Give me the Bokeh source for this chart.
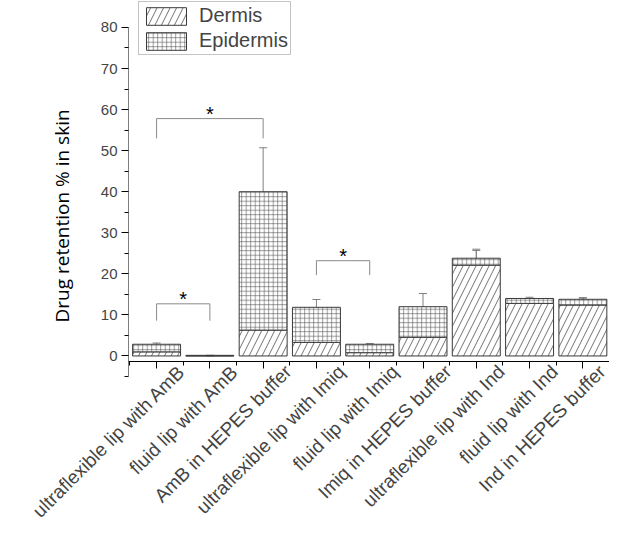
import math
from bokeh.plotting import figure
from bokeh.models import (Range1d, FixedTicker, ColumnDataSource, Whisker, TeeHead,
                          Legend, LegendItem, LinearAxis, Title)
from bokeh.core.properties import value
from bokeh.embed import file_html
from bokeh.resources import INLINE

categories = ["ultraflexible lip with AmB", "fluid lip with AmB", "AmB in HEPES buffer",
              "ultraflexible lip with Imiq", "fluid lip with Imiq", "Imiq in HEPES buffer",
              "ultraflexible lip with Ind", "fluid lip with Ind", "Ind in HEPES buffer"]
dermis = [1.0, 0.05, 6.3, 3.3, 0.8, 4.55, 22.1, 12.8, 12.4]
epidermis = [1.85, 0.1, 33.7, 8.55, 2.05, 7.45, 1.7, 1.2, 1.4]
dermis_err = [0.15, 0.0, 1.8, 0.7, 0.1, 0.7, 3.6, 1.0, 1.8]
total_err = [0.3, 0.0, 10.7, 1.9, 0.2, 3.2, 2.2, 0.3, 0.3]

# significance brackets: (left bar, right bar, bracket height, leg bottom)
sig_left = [1, 1, 4]
sig_right = [2, 3, 5]
sig_top = [12.7, 57.8, 23.2]
sig_leg = [8.6, 53.0, 19.7]

y_ticks = [0, 10, 20, 30, 40, 50, 60, 70, 80]
y_minor = [-5, 5, 15, 25, 35, 45, 55, 65, 75]
y_title = "Drug retention % in skin"

xs = list(range(1, len(categories) + 1))
totals = [d + e for d, e in zip(dermis, epidermis)]

X0, X1 = 0.473, 9.5
Y0, Y1 = -5, 86.56
p = figure(width=609, height=531, output_backend="svg", toolbar_location=None,
           x_range=Range1d(X0, X1), y_range=Range1d(Y0, Y1),
           min_border_left=128, min_border_right=0, min_border_top=0,
           min_border_bottom=154)
p.outline_line_color = None
p.grid.visible = False
lab_shift = 0.47
p.extra_x_ranges = {"lab": Range1d(X0 - lab_shift, X1 - lab_shift)}

src = ColumnDataSource(dict(x=xs, dermis=dermis, total=totals,
                            d_lo=[d - e for d, e in zip(dermis, dermis_err)],
                            d_hi=[d + e for d, e in zip(dermis, dermis_err)],
                            t_lo=[t - e for t, e in zip(totals, total_err)],
                            t_hi=[t + e for t, e in zip(totals, total_err)]))

r_d = p.vbar(x="x", top="dermis", bottom=0, width=0.9, source=src,
             fill_color="white", line_color="#3a3a3a", line_width=1,
             hatch_pattern="/", hatch_scale=13, hatch_color="#333333", hatch_weight=0.7)
r_e = p.vbar(x="x", top="total", bottom="dermis", width=0.9, source=src,
             fill_color="white", line_color="#3a3a3a", line_width=1,
             hatch_pattern="+", hatch_scale=4.5, hatch_color="#555555", hatch_weight=0.6)

for lo, hi in (("d_lo", "d_hi"), ("t_lo", "t_hi")):
    w = Whisker(base="x", lower=lo, upper=hi, source=src, line_color="#808080",
                line_width=1,
                upper_head=TeeHead(size=8, line_color="#808080", line_width=1),
                lower_head=TeeHead(size=8, line_color="#808080", line_width=1))
    p.add_layout(w)

bx = [[l, l, r, r] for l, r in zip(sig_left, sig_right)]
by = [[lg, t, t, lg] for t, lg in zip(sig_top, sig_leg)]
p.multi_line(xs=bx, ys=by, line_color="#8a8a8a", line_width=1)
p.text(x=[(l + r) / 2 for l, r in zip(sig_left, sig_right)], y=sig_top, text=["*"] * 3,
       text_font=value("Liberation Sans"), text_font_size="20px", text_color="black",
       text_align="center", text_baseline="bottom", y_offset=6)

# y axis line drawn only over the tick span (-5 .. 80)
p.segment(x0=[X0], y0=[y_minor[0]], x1=[X0], y1=[y_ticks[-1]], line_color="black",
          line_width=1)

legend = Legend(items=[LegendItem(label="Dermis", renderers=[r_d]),
                       LegendItem(label="Epidermis", renderers=[r_e])],
                location=(10, 321), glyph_width=50, glyph_height=22,
                label_text_font="Liberation Sans", label_text_font_size="20px",
                label_standoff=8, padding=2, spacing=2, margin=0,
                label_height=22,
                border_line_color="#8a8a8a", border_line_width=1,
                background_fill_alpha=1)
p.add_layout(legend)

ya = p.yaxis[0]
ya.ticker = FixedTicker(ticks=y_ticks, minor_ticks=y_minor)
ya.major_label_text_font = "Liberation Sans"
ya.major_label_text_font_size = "15px"
ya.major_label_standoff = 4
ya.major_tick_out = 7
ya.major_tick_in = 0
ya.minor_tick_out = 4
ya.minor_tick_in = 0
ya.axis_line_color = None

p.add_layout(Title(text=y_title, align="left", offset=54, standoff=45,
                   text_font="Open Sans", text_font_size="19px",
                   text_font_style="normal", text_color="black"), "left")

# x axis line + ticks at the reference position (slightly below zero)
xa = p.xaxis[0]
xa.ticker = FixedTicker(ticks=xs, minor_ticks=[x - 0.5 for x in xs] + [len(xs) + 0.5])
xa.major_label_text_color = None
xa.fixed_location = -1.4
xa.major_tick_out = 7
xa.major_tick_in = 0
xa.minor_tick_out = 4
xa.minor_tick_in = 0
xa.axis_line_color = "black"

# category labels below
xl = LinearAxis(ticker=FixedTicker(ticks=xs, minor_ticks=[]), x_range_name="lab")
xl.major_label_overrides = {x: c for x, c in zip(xs, categories)}
xl.major_label_orientation = math.pi / 4
xl.major_label_text_font = "Liberation Sans"
xl.major_label_text_font_size = "19px"
xl.major_label_standoff = -14
xl.axis_line_color = None
xl.major_tick_line_color = None
xl.minor_tick_line_color = None
p.add_layout(xl, "below")

open("out.html", "w").write(file_html(p, INLINE))
